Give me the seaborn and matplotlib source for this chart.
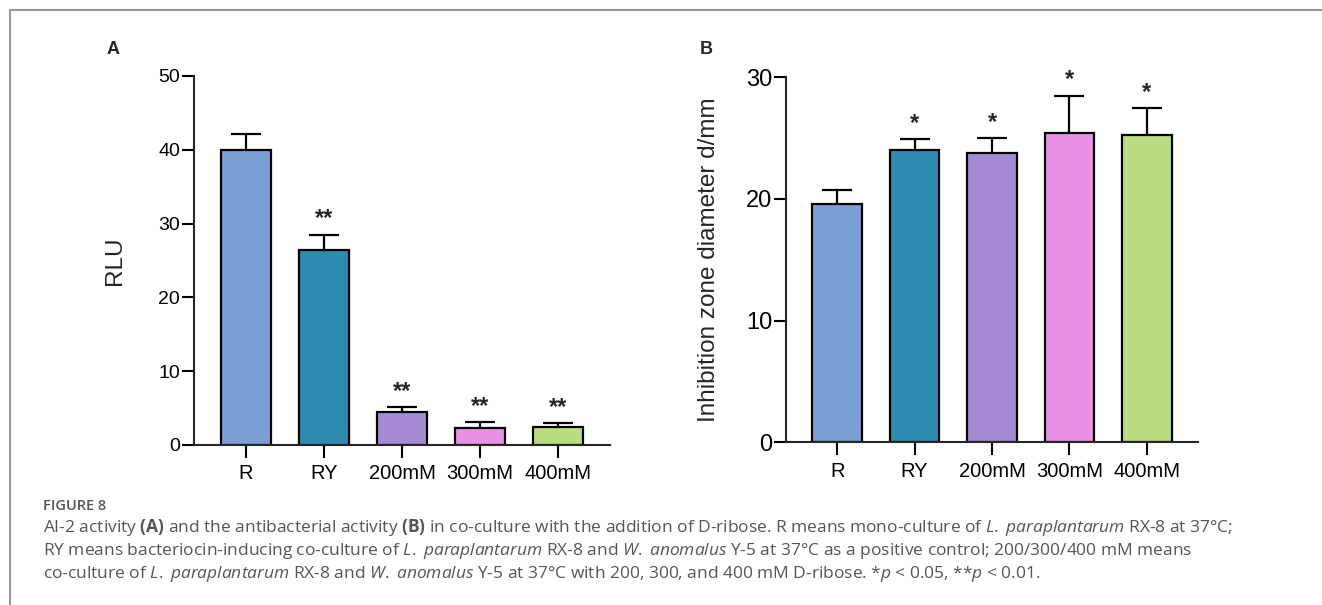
import matplotlib
matplotlib.use("Agg")
import matplotlib.pyplot as plt
from matplotlib.lines import Line2D
import seaborn as sns

# dados
grupos = ["R", "RY", "200mM", "300mM", "400mM"]
cores = ["#7b9fd4", "#2e8bb0", "#a68bd4", "#e891e7", "#badd84"]

rlu_media = [40.0, 26.4, 4.45, 2.3, 2.45]
rlu_erro = [2.1, 2.1, 0.65, 0.8, 0.5]
rlu_sig = ["", "**", "**", "**", "**"]

halo_media = [19.6, 24.0, 23.75, 25.4, 25.3]
halo_erro = [1.1, 0.9, 1.25, 3.1, 2.2]
halo_sig = ["", "*", "*", "*", "*"]

sns.set_style("ticks")
plt.rcParams["font.family"] = ["Liberation Sans", "DejaVu Sans"]
plt.rcParams["mathtext.fontset"] = "custom"
plt.rcParams["mathtext.rm"] = "Open Sans"
plt.rcParams["mathtext.it"] = "Open Sans:italic"
plt.rcParams["mathtext.bf"] = "Open Sans:bold"

fig = plt.figure(figsize=(13.22, 6.05), dpi=100)
axA = fig.add_axes([0.1467, 0.2645, 0.3147, 0.6099])
axB = fig.add_axes([0.5946, 0.2689, 0.3116, 0.6033])


def painel(ax, medias, erros, sig, ymax, ystep, ylabel, ytick_size, pad_label):
    sns.barplot(x=grupos, y=medias, hue=grupos, palette=cores, legend=False,
                edgecolor="black", linewidth=1.6, width=0.64, saturation=1, ax=ax)
    ax.errorbar(range(len(grupos)), medias, yerr=erros, fmt="none", ecolor="black",
                elinewidth=1.6, capsize=11, capthick=1.6, zorder=0.5)
    for i, s in enumerate(sig):
        if s:
            ax.annotate(s, (i, medias[i] + erros[i]), xytext=(0, 3), textcoords="offset points",
                        ha="center", va="bottom", fontsize=17, fontweight="bold")
    ax.set_ylim(0, ymax)
    ax.set_yticks(range(0, ymax + 1, ystep))
    ax.set_xlim(-0.66, len(grupos) - 0.34)
    ax.set_ylabel(ylabel, fontsize=17.5, labelpad=pad_label)
    ax.set_xlabel("")
    for lado in ["left", "bottom"]:
        ax.spines[lado].set_linewidth(1.5)
    sns.despine(ax=ax)
    ax.tick_params(axis="both", length=9, width=1.5, colors="black")
    ax.tick_params(axis="x", labelsize=14.5, pad=5)
    ax.tick_params(axis="y", labelsize=ytick_size, pad=1)


painel(axA, rlu_media, rlu_erro, rlu_sig, 50, 10, "RLU", 14, 23)
painel(axB, halo_media, halo_erro, halo_sig, 30, 10, "Inhibition zone diameter d/mm", 17, 19)

fig.text(113 / 1322, 1 - 50 / 605, "A", fontsize=13, fontweight="bold", ha="center", va="center")
fig.text(706 / 1322, 1 - 50 / 605, "B", fontsize=13, fontweight="bold", ha="center", va="center")

# moldura
fig.add_artist(Line2D([10 / 1322, 1], [1 - 10 / 605, 1 - 10 / 605], color="#9a9a9a", lw=1.5))
fig.add_artist(Line2D([10 / 1322, 10 / 1322], [0, 1 - 10 / 605], color="#9a9a9a", lw=1.5))

# legenda da figura
cinza = "#555555"
fig.text(43 / 1322, 1 - 510 / 605, "FIGURE 8", fontsize=10.5, color=cinza,
         family="Open Sans", fontweight="semibold", va="baseline")
linhas = [
    r"AI-2 activity $\mathbf{(A)}$ and the antibacterial activity $\mathbf{(B)}$ in co-culture with the addition of D-ribose. R means mono-culture of $\mathit{L.}$ $\mathit{paraplantarum}$ RX-8 at 37°C;",
    r"RY means bacteriocin-inducing co-culture of $\mathit{L.}$ $\mathit{paraplantarum}$ RX-8 and $\mathit{W.}$ $\mathit{anomalus}$ Y-5 at 37°C as a positive control; 200/300/400 mM means",
    r"co-culture of $\mathit{L.}$ $\mathit{paraplantarum}$ RX-8 and $\mathit{W.}$ $\mathit{anomalus}$ Y-5 at 37°C with 200, 300, and 400 mM D-ribose. *$\mathit{p}$ < 0.05, **$\mathit{p}$ < 0.01.",
]
for k, t in enumerate(linhas):
    fig.text(43 / 1322, 1 - (532 + 23 * k) / 605, t, fontsize=12.5, color=cinza,
             family="Open Sans", va="baseline")

fig.savefig("out.png", dpi=100)
